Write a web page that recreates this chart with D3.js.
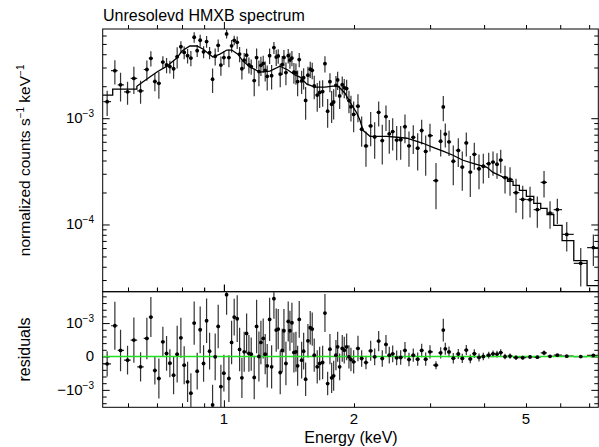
<!DOCTYPE html>
<html>
<head>
<meta charset="utf-8">
<title>Unresolevd HMXB spectrum</title>
<script src="https://cdn.jsdelivr.net/npm/d3@7"></script>
<style>
body { margin: 0; background: #fff; }
svg { font-family: "Liberation Sans", Arial, Helvetica, sans-serif; }
</style>
</head>
<body>
<script>

// bin energies (keV)
const energy = [
	0.5369,0.5594,0.5766,0.5985,0.6190,0.6415,0.6634,0.6777,0.6923,0.7072,
	0.7224,0.7368,0.7499,0.7649,0.7796,0.7952,0.8093,0.8241,0.8387,0.8536,
	0.8674,0.8813,0.8974,0.9119,0.9266,0.9415,0.9547,0.9701,0.9841,1.0000,
	1.0145,1.0270,
	1.0419,1.0564,1.0735,1.0873,1.1007,1.1143,1.1286,1.1426,1.1566,1.1753,
	1.1904,1.2051,1.2180,1.2330,1.2462,1.2596,1.2758,1.2895,1.3054,1.3215,
	1.3357,1.3500,1.3644,1.3769,1.3916,1.4088,1.4216,1.4368,1.4522,1.4678,
	1.4812,1.4939,1.5131,1.5293,1.5457,1.5648,1.5841,1.6010,1.6182,1.6443,
	1.6655,1.6923,1.7132,1.7380,1.7594,1.7755,1.7945,1.8166,1.8331,1.8528,
	1.8787,1.8988,1.9232,1.9470,1.9678,1.9964,
	2.0427,2.0834,2.1317,2.1858,2.2329,2.2810,2.3252,2.3715,2.4136,2.4577,
	2.5106,2.5647,2.6240,2.6806,2.7427,2.8078,2.8683,2.9301,2.9981,3.0955,
	3.1740,3.2183,3.2528,3.3176,3.3945,3.4862,3.5613,3.6381,3.7165,3.7966,
	3.8929,3.9831,4.0994,4.1945,4.2849,4.3702,4.4715,4.5923,4.7416,4.9139,
	5.1089,5.3116,5.5046,5.6835,5.9090,6.2127,6.6940,7.1590
]

// residuals (data - model), units of 1e-3 counts s^-1 keV^-1
const resid = [
	-0.22,0.92,0.18,-0.11,0.49,-0.31,0.54,1.18,-0.42,-0.66,
	0.44,0.09,-0.2,-0.56,0.07,0.56,-0.26,-0.76,-1.1,1.0,
	-0.44,0.8,-0.21,1.07,0.16,-1.45,-0.01,0.9,-0.9,-0.5,
	1.85,-0.66,
	0.42,1.18,1.13,0.21,-0.64,0.14,0.69,0.09,0.07,-0.63,
	0.9,0.0,0.42,0.54,0.07,-0.28,1.11,-0.31,1.73,0.79,
	0.82,-0.48,0.18,0.77,-0.21,1.05,0.77,1.01,0.12,0.14,
	-0.28,1.11,-0.11,0.16,-0.68,0.47,0.86,0.82,0.04,-0.31,
	-0.21,-0.18,1.3,-0.81,0.22,-0.64,-0.58,0.04,0.29,-0.31,
	0.24,0.19,0.29,-0.01,-0.09,-0.16,
	0.24,-0.06,-0.18,0.17,-0.01,0.46,-0.06,0.36,0.04,0.08,
	-0.04,-0.03,0.18,-0.09,0.04,-0.08,0.18,-0.08,0.14,-0.26,
	0.108,0.79,0.23,0.136,-0.053,0.074,-0.058,0.192,-0.072,0.084,
	-0.028,0.0,0.039,0.078,0.072,0.118,-0.002,0.011,-0.034,-0.037,
	-0.013,-0.02,0.107,0.004,0.040,0.010,-0.0026,0.034
]

// 1 sigma errors, same units
const resErr = [
	0.38,0.72,0.62,0.43,0.68,0.44,0.62,0.6,0.42,0.6,
	0.45,0.52,0.42,0.57,0.85,0.6,0.57,0.6,0.6,0.65,
	0.55,0.7,0.55,0.67,0.55,0.6,0.7,0.65,0.65,0.55,
	0.6,0.7,
	0.65,0.55,0.7,0.65,0.6,0.6,0.6,0.55,0.5,0.65,
	0.8,0.75,0.65,0.6,0.6,0.65,0.65,0.65,0.6,0.65,
	0.6,0.65,0.65,0.65,0.65,0.6,0.6,0.6,0.6,0.6,
	0.6,0.55,0.55,0.55,0.5,0.5,0.5,0.5,0.5,0.5,
	0.5,0.5,0.57,0.35,0.45,0.45,0.45,0.45,0.45,0.4,
	0.4,0.4,0.4,0.35,0.35,0.35,
	0.38,0.25,0.2,0.3,0.25,0.3,0.25,0.28,0.25,0.25,
	0.22,0.22,0.25,0.2,0.2,0.2,0.2,0.2,0.2,0.12,
	0.17,0.34,0.18,0.16,0.16,0.15,0.14,0.15,0.13,0.13,
	0.12,0.11,0.1,0.1,0.1,0.1,0.08,0.08,0.07,0.06,
	0.055,0.045,0.07,0.037,0.037,0.025,0.017,0.02
]

// folded model, fine part (keV, counts s^-1 keV^-1)
const modelE = [0.5243,0.553,0.553,0.629,0.629,0.649,0.674,0.700,0.738,0.778,0.800,0.834,0.866,0.894,0.918,0.943,
	0.979,1.016,1.043,1.077,1.107,1.149,1.211,1.278,1.348,1.406,1.460,1.500,1.556,1.624,1.713,1.788,1.836,1.866,
	1.906,1.957,2.032,2.065,2.098,2.178,2.384,2.515,2.652,2.888,3.046,3.214,3.389,3.575,3.771,4.062,4.194,4.419]
const modelV = [1.65e-3,1.65e-3,1.88e-3,1.88e-3,2.00e-3,2.19e-3,2.44e-3,2.72e-3,3.09e-3,3.68e-3,4.29e-3,4.78e-3,4.78e-3,4.48e-3,4.10e-3,3.76e-3,
	4.01e-3,4.38e-3,4.38e-3,4.01e-3,3.45e-3,3.03e-3,2.72e-3,2.77e-3,3.09e-3,2.84e-3,2.55e-3,2.44e-3,2.09e-3,1.96e-3,1.96e-3,2.00e-3,2.00e-3,1.88e-3,
	1.72e-3,1.42e-3,1.11e-3,9.57e-4,7.70e-4,6.76e-4,6.76e-4,6.62e-4,6.48e-4,5.81e-4,5.32e-4,4.89e-4,4.48e-4,4.02e-4,3.76e-4,3.45e-4,3.09e-4,2.80e-4]

// folded model, wide bins at high energy
const stepEdges = [4.419,4.531,4.667,4.827,5.010,5.212,5.409,5.594,5.798,6.060,6.450,6.923,7.35]
const stepV = [2.78e-4,2.55e-4,2.33e-4,2.09e-4,1.84e-4,1.58e-4,1.42e-4,1.24e-4,9.8e-5,7.06e-5,4.57e-5,2.66e-5]

const xTicksMajor = [1]
const xTicksMinor = [0.6,0.7,0.8,0.9,2,3,4,5,6,7]
const xTickLabels = [1,2,5]
const yUpMajor = [1e-4,1e-3]
const yUpLabels = [[1e-4,"10","\u22124"],[1e-3,"10","\u22123"]]
const yLowMajor = [-1e-3,0,1e-3]
const yLowLabels = [[1e-3,"10","\u22123"],[0,"0",""],[-1e-3,"\u221210","\u22123"]]

const W = 599, H = 447
const plotL = 102.7, plotR = 598.3, upTop = 29, midY = 291.7, lowBot = 407.3

const x = d3.scaleLog().domain([0.5243, 7.35]).range([plotL, plotR])
const yU = d3.scaleLog().domain([2.33e-5, 6.91e-3]).range([midY, upTop])
const yL = d3.scaleLinear().domain([-1.522e-3, 1.94e-3]).range([lowBot, midY])

function modelAt(e) {
	if (e >= stepEdges[0]) {
		let i = d3.bisectRight(stepEdges, e) - 1
		return stepV[Math.min(i, stepV.length - 1)]
	}
	let i = d3.bisectRight(modelE, e)
	let e0 = modelE[i-1], e1 = modelE[i], v0 = modelV[i-1], v1 = modelV[i]
	let t = Math.log(e/e0) / Math.log(e1/e0)
	return Math.exp(Math.log(v0) + t * Math.log(v1/v0))
}

// points
const pts = energy.map((e, i) => {
	let r = resid[i] * 1e-3, err = resErr[i] * 1e-3
	let lo = i > 0 ? Math.sqrt(energy[i-1]*e) : null
	let hi = i < energy.length - 1 ? Math.sqrt(energy[i+1]*e) : null
	if (lo === null) lo = e*e/hi
	if (hi === null) hi = e*e/lo
	let m = modelAt(e)
	return {e: e, lo: lo, hi: hi, r: r, err: err, v: m + r}
})

const svg = d3.select("body").append("svg")
	.attr("width", W).attr("height", H)

svg.append("rect").attr("width", W).attr("height", H).attr("fill", "#fff")

const defs = svg.append("defs")
defs.append("clipPath").attr("id", "clipU").append("rect")
	.attr("x", plotL).attr("y", upTop).attr("width", plotR - plotL).attr("height", midY - upTop)
defs.append("clipPath").attr("id", "clipL").append("rect")
	.attr("x", plotL).attr("y", midY).attr("width", plotR - plotL).attr("height", lowBot - midY)

// ticks, inward on all four sides
function ticks(tx, ty, axis, vals, len) {
	let g = svg.append("g").attr("transform", "translate(" + tx + "," + ty + ")")
	g.call(axis.tickValues(vals).tickSize(-len).tickFormat(""))
	g.select(".domain").remove()
	g.selectAll("line").attr("stroke", "#000").attr("stroke-width", 1)
}

let upMinor = []
for (let p = -5; p <= -3; p++)
	for (let k = 2; k <= 9; k++) {
		let v = k * Math.pow(10, p)
		if (v > 2.33e-5 && v < 6.91e-3) upMinor.push(v)
	}
let lowMinor = d3.range(-14, 19, 2).map(k => k * 1e-4).filter(v => Math.abs(v % 1e-3) > 1e-9)

ticks(0, midY, d3.axisBottom(x), xTicksMinor, 4)
ticks(0, midY, d3.axisBottom(x), xTicksMajor, 7)
ticks(0, upTop, d3.axisTop(x), xTicksMinor, -4)
ticks(0, upTop, d3.axisTop(x), xTicksMajor, -7)
ticks(0, lowBot, d3.axisBottom(x), xTicksMinor, 4)
ticks(0, lowBot, d3.axisBottom(x), xTicksMajor, 7)
ticks(0, midY, d3.axisTop(x), xTicksMinor, -4)
ticks(0, midY, d3.axisTop(x), xTicksMajor, -7)

ticks(plotL, 0, d3.axisLeft(yU), upMinor, 4)
ticks(plotL, 0, d3.axisLeft(yU), yUpMajor, 7)
ticks(plotR, 0, d3.axisRight(yU), upMinor, 4)
ticks(plotR, 0, d3.axisRight(yU), yUpMajor, 7)
ticks(plotL, 0, d3.axisLeft(yL), lowMinor, 4)
ticks(plotL, 0, d3.axisLeft(yL), yLowMajor, 7)
ticks(plotR, 0, d3.axisRight(yL), lowMinor, 4)
ticks(plotR, 0, d3.axisRight(yL), yLowMajor, 7)

// frames
svg.append("rect").attr("x", plotL).attr("y", upTop).attr("width", plotR - plotL).attr("height", midY - upTop)
	.attr("fill", "none").attr("stroke", "#000").attr("stroke-width", 1)
svg.append("rect").attr("x", plotL).attr("y", midY).attr("width", plotR - plotL).attr("height", lowBot - midY)
	.attr("fill", "none").attr("stroke", "#000").attr("stroke-width", 1)

// upper panel
const gU = svg.append("g").attr("clip-path", "url(#clipU)")

gU.selectAll(".ev").data(pts).enter().append("line")
	.attr("x1", d => x(d.e)).attr("x2", d => x(d.e))
	.attr("y1", d => yU(d.v + d.err))
	.attr("y2", d => d.v - d.err > 2.33e-5 ? yU(d.v - d.err) : midY + 2)
	.attr("stroke", "#333").attr("stroke-width", 1.2)
gU.selectAll(".eh").data(pts).enter().append("line")
	.attr("x1", d => x(d.lo)).attr("x2", d => x(d.hi))
	.attr("y1", d => yU(d.v)).attr("y2", d => yU(d.v))
	.attr("stroke", "#222").attr("stroke-width", 1.2)

let modelPts = modelE.map((e, i) => [e, modelV[i]])
stepV.forEach((v, i) => { modelPts.push([stepEdges[i], v]); modelPts.push([stepEdges[i+1], v]) })
gU.append("path").datum(modelPts)
	.attr("d", d3.line().x(d => x(d[0])).y(d => yU(d[1])))
	.attr("fill", "none").attr("stroke", "#000").attr("stroke-width", 1.3)

gU.selectAll("circle").data(pts).enter().append("circle")
	.attr("cx", d => x(d.e)).attr("cy", d => yU(d.v)).attr("r", 1.9).attr("fill", "#000")

// lower panel
const gL = svg.append("g").attr("clip-path", "url(#clipL)")

gL.selectAll(".ev").data(pts).enter().append("line")
	.attr("x1", d => x(d.e)).attr("x2", d => x(d.e))
	.attr("y1", d => yL(d.r + d.err)).attr("y2", d => yL(d.r - d.err))
	.attr("stroke", "#333").attr("stroke-width", 1.2)
gL.selectAll(".eh").data(pts).enter().append("line")
	.attr("x1", d => x(d.lo)).attr("x2", d => x(d.hi))
	.attr("y1", d => yL(d.r)).attr("y2", d => yL(d.r))
	.attr("stroke", "#222").attr("stroke-width", 1.2)

gL.append("line")
	.attr("x1", plotL).attr("x2", plotR).attr("y1", yL(0)).attr("y2", yL(0))
	.attr("stroke", "#22e022").attr("stroke-width", 1.6)

gL.selectAll("circle").data(pts).enter().append("circle")
	.attr("cx", d => x(d.e)).attr("cy", d => yL(d.r)).attr("r", 1.9).attr("fill", "#000")

// tick labels
svg.selectAll(".xl").data(xTickLabels).enter().append("text")
	.attr("x", d => x(d)).attr("y", 424)
	.attr("text-anchor", "middle").attr("font-size", 15).text(d => d)

function yLabel(scale, d) {
	let t = svg.append("text").attr("x", 94).attr("y", scale(d[0]) + 5)
		.attr("text-anchor", "end").attr("font-size", 15)
	t.append("tspan").text(d[1])
	if (d[2]) t.append("tspan").attr("dy", -6).attr("font-size", 10).text(d[2])
}
yUpLabels.forEach(d => yLabel(yU, d))
yLowLabels.forEach(d => yLabel(yL, d))

// titles
svg.append("text").attr("x", 103).attr("y", 21).attr("font-size", 16).text("Unresolevd HMXB spectrum")

svg.append("text").attr("x", 351).attr("y", 443).attr("text-anchor", "middle")
	.attr("font-size", 16).text("Energy (keV)")

let yt = svg.append("text").attr("transform", "translate(30," + ((upTop + midY) / 2) + ") rotate(-90)")
	.attr("text-anchor", "middle").attr("font-size", 15.5)
yt.append("tspan").text("normalized counts s")
yt.append("tspan").attr("dy", -6).attr("font-size", 10).text("\u22121")
yt.append("tspan").attr("dy", 6).text(" keV")
yt.append("tspan").attr("dy", -6).attr("font-size", 10).text("\u22121")

svg.append("text").attr("transform", "translate(30," + ((midY + lowBot) / 2) + ") rotate(-90)")
	.attr("text-anchor", "middle").attr("font-size", 16).text("residuals")

</script>
</body>
</html>
